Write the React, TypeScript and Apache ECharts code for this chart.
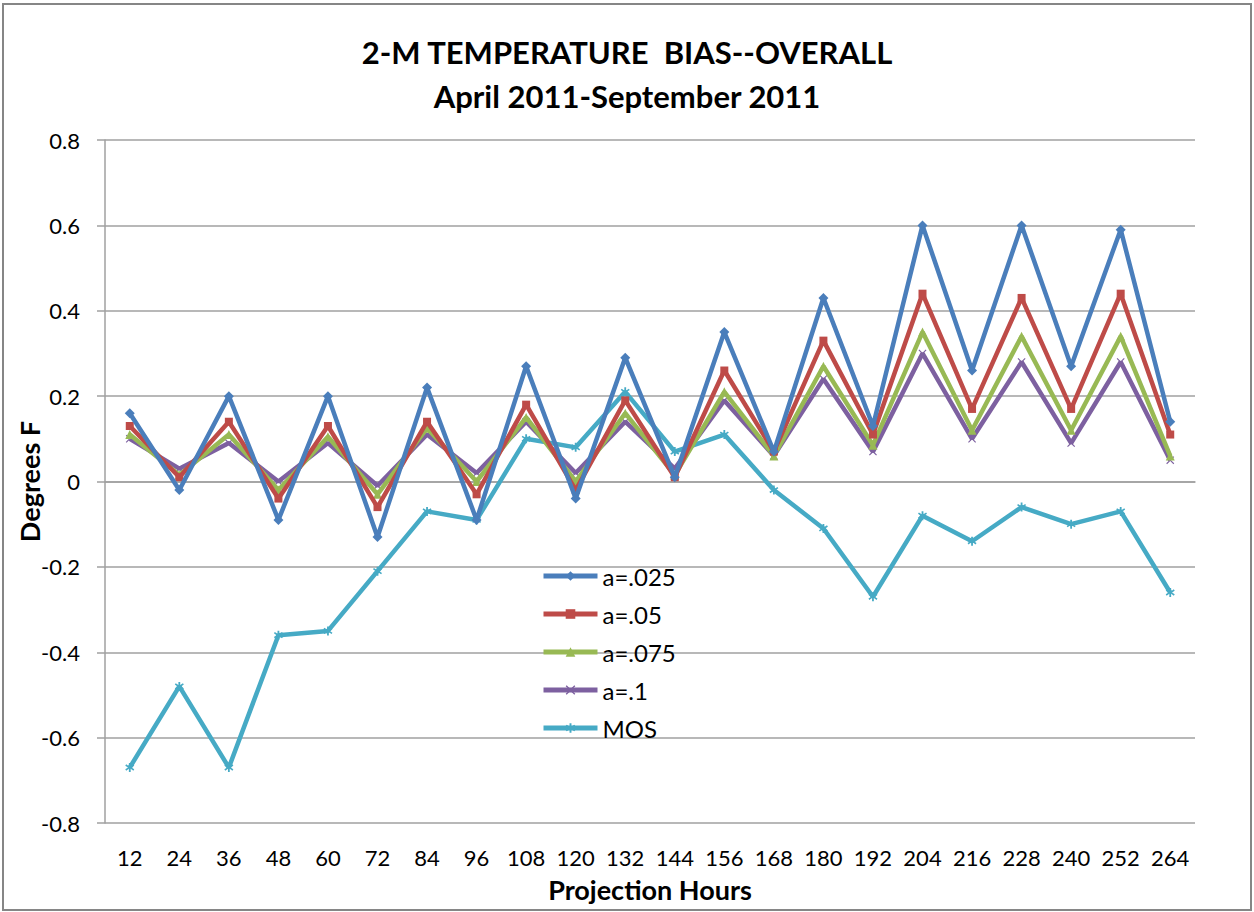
import React, { useEffect, useRef } from "react";
import * as echarts from "echarts";

const hours = ["12","24","36","48","60","72","84","96","108","120","132","144","156","168","180","192","204","216","228","240","252","264"];
const a025 = [0.16,-0.02,0.20,-0.09,0.20,-0.13,0.22,-0.09,0.27,-0.04,0.29,0.01,0.35,0.07,0.43,0.13,0.60,0.26,0.60,0.27,0.59,0.14];
const a05 = [0.13,0.01,0.14,-0.04,0.13,-0.06,0.14,-0.03,0.18,-0.02,0.19,0.01,0.26,0.07,0.33,0.11,0.44,0.17,0.43,0.17,0.44,0.11];
const a075 = [0.11,0.015,0.11,-0.02,0.105,-0.03,0.125,0.0,0.15,0.0,0.16,0.015,0.21,0.06,0.27,0.085,0.35,0.12,0.34,0.12,0.34,0.06];
const a1 = [0.10,0.03,0.09,0.0,0.09,-0.01,0.11,0.02,0.14,0.02,0.14,0.03,0.19,0.06,0.24,0.07,0.30,0.10,0.28,0.09,0.28,0.05];
const mos = [-0.67,-0.48,-0.67,-0.36,-0.35,-0.21,-0.07,-0.09,0.10,0.08,0.21,0.07,0.11,-0.02,-0.11,-0.27,-0.08,-0.14,-0.06,-0.10,-0.07,-0.26];
const seriesNames = ["a=.025", "a=.05", "a=.075", "a=.1", "MOS"];
const yTicks = [-0.8, 0.8, 0.2];

const colors = ["#4A7EBB", "#BE4B48", "#98B954", "#7D60A0", "#46AAC5"];
const xSym = "path://M0,1L1,0L5,4L9,0L10,1L6,5L10,9L9,10L5,6L1,10L0,9L4,5Z";
const starSym = "path://M4,0L6,0L6,3.5L9,1.5L10,3L7,5L10,7L9,8.5L6,6.5L6,10L4,10L4,6.5L1,8.5L0,7L3,5L0,3L1,1.5L4,3.5Z";
const symbols = ["diamond", "rect", "triangle", xSym, starSym];
const symbolSizes = [10, 8, 9, 8, 9];

export default function App() {
  const ref = useRef<HTMLDivElement>(null);
  useEffect(() => {
    document.body.style.margin = "0";
    const chart = echarts.init(ref.current!, null, { renderer: "svg" });
    const data = [a025, a05, a075, a1, mos];
    const font = "Lato, 'Open Sans', sans-serif";
    chart.setOption({
      animation: false,
      backgroundColor: "#fff",
      color: colors,
      textStyle: { fontFamily: font },
      title: {
        text: "2-M TEMPERATURE  BIAS--OVERALL\nApril 2011-September 2011",
        left: "center",
        top: 25,
        textStyle: { fontFamily: font, fontSize: 31, fontWeight: "bold", color: "#000", lineHeight: 44 },
      },
      graphic: [
        {
          type: "rect",
          shape: { x: 3, y: 4, width: 1248, height: 906 },
          style: { fill: "none", stroke: "#868686", lineWidth: 2 },
          silent: true,
        },
      ],
      legend: {
        orient: "vertical",
        left: 536,
        top: 559,
        itemWidth: 54,
        itemHeight: 12,
        itemGap: 14,
        data: seriesNames,
        lineStyle: { width: 5 },
        textStyle: { fontFamily: font, fontSize: 24, color: "#000", lineHeight: 24 },
      },
      grid: { left: 105, right: 59, top: 140, bottom: 89, containLabel: false, outerBoundsMode: "none" },
      xAxis: {
        type: "category",
        data: hours,
        boundaryGap: true,
        name: "Projection Hours",
        nameLocation: "middle",
        nameGap: 53,
        nameMoveOverlap: false,
        nameTextStyle: { fontFamily: font, fontSize: 27, fontWeight: "bold", color: "#000" },
        axisLine: { lineStyle: { color: "#A0A0A0", width: 1.5 } },
        axisTick: { show: false },
        axisLabel: { fontFamily: font, fontSize: 22, color: "#000", margin: 23, interval: 0 },
        splitLine: { show: false },
      },
      yAxis: {
        type: "value",
        min: yTicks[0],
        max: yTicks[1],
        interval: yTicks[2],
        name: "Degrees F",
        nameLocation: "middle",
        nameGap: 62,
        nameMoveOverlap: false,
        nameRotate: 90,
        nameTextStyle: { fontFamily: font, fontSize: 27, fontWeight: "bold", color: "#000" },
        axisLine: { show: true, lineStyle: { color: "#A0A0A0", width: 1.5 } },
        axisTick: { show: true, inside: false, length: 8, lineStyle: { color: "#A0A0A0", width: 1.5 } },
        axisLabel: { fontFamily: font, fontSize: 22, color: "#000", margin: 25 },
        splitLine: { lineStyle: { color: "#A0A0A0", width: 1.5 } },
      },
      series: seriesNames.map((name, i) => ({
        name,
        type: "line",
        data: data[i],
        symbol: symbols[i],
        symbolSize: symbolSizes[i],
        showAllSymbol: true,
        lineStyle: { width: 4.5, color: colors[i] },
        itemStyle: { color: colors[i] },
        z: 10 - i,
      })),
    });
    return () => chart.dispose();
  }, []);
  return <div ref={ref} style={{ width: 1254, height: 912 }} />;
}
